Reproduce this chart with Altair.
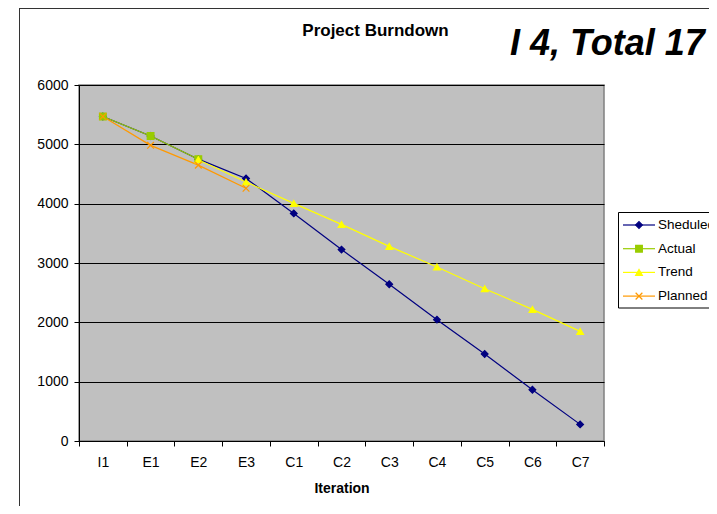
import altair as alt
import pandas as pd

iterations = ["I1", "E1", "E2", "E3", "C1", "C2", "C3", "C4", "C5", "C6", "C7"]
series_names = ["Sheduled", "Actual", "Trend", "Planned"]
sheduled = [5470, 5140, 4750, 4425, 3836, 3226, 2643, 2045, 1466, 865, 280]
actual = [5470, 5140, 4750, None, None, None, None, None, None, None, None]
trend = [None, None, 4741, 4365, 4005, 3651, 3280, 2933, 2567, 2218, 1847]
planned = [5470, 4983, 4650, 4260, None, None, None, None, None, None, None]
colors = ["#000080", "#99CC00", "#FFFF00", "#FF9900"]
shapes = ["diamond", "square", "triangle-up", "M-1,-1L1,1M-1,1L1,-1"]

rows = []
for name, vals in zip(series_names, [sheduled, actual, trend, planned]):
    for it, v in zip(iterations, vals):
        if v is not None:
            rows.append({"iteration": it, "value": v, "series": name})
df = pd.DataFrame(rows)
legend_df = pd.DataFrame({"series": series_names, "i": list(range(len(series_names)))})
one = pd.DataFrame({"k": [0]})

FONT = "Liberation Sans"
color_scale = alt.Scale(domain=series_names, range=colors)
shape_scale = alt.Scale(domain=series_names, range=shapes)

x_enc = alt.X(
    "iteration:N", sort=iterations, bandPosition=0.5,
    scale=alt.Scale(type="band", paddingInner=0, paddingOuter=0),
    axis=alt.Axis(title="Iteration", labelAngle=0, tickBand="extent", grid=False,
                  domainColor="black", tickColor="black", tickSize=5,
                  labelFont=FONT, labelFontSize=14, labelColor="black", labelPadding=9,
                  titleFont=FONT, titleFontSize=14, titleFontWeight="bold", titleColor="black",
                  titlePadding=12),
)
y_enc = alt.Y(
    "value:Q", scale=alt.Scale(domain=[0, 6000]),
    axis=alt.Axis(title=None, values=[0, 1000, 2000, 3000, 4000, 5000, 6000], format="d",
                  grid=True, gridColor="black", gridOpacity=1, gridWidth=1,
                  domainColor="black", tickColor="black", tickSize=5,
                  labelFont=FONT, labelFontSize=14, labelColor="black", labelPadding=6),
)

lines = alt.Chart(df).mark_line(strokeWidth=1.2).encode(
    x=x_enc, y=y_enc,
    color=alt.Color("series:N", scale=color_scale, legend=None),
    detail="series:N",
)
points = alt.Chart(df).mark_point(filled=True, size=45, strokeWidth=1.2, opacity=1).encode(
    x=x_enc, y=y_enc,
    color=alt.Color("series:N", scale=color_scale, legend=None),
    stroke=alt.Stroke("series:N", scale=color_scale, legend=None),
    shape=alt.Shape("series:N", scale=shape_scale, legend=None),
)
data_layer = alt.layer(lines, points)

frame_left = alt.Chart(one).mark_rule(color="#333333", strokeWidth=1).encode(
    x=alt.value(-59.5), y=alt.value(-77), y2=alt.value(425))
frame_top = alt.Chart(one).mark_rule(color="#333333", strokeWidth=1).encode(
    y=alt.value(-76.5), x=alt.value(-60), x2=alt.value(640))

title1 = alt.Chart(one).mark_text(
    text="Project Burndown", font=FONT, fontSize=17, fontWeight="bold",
    align="center", baseline="alphabetic", color="black").encode(
    x=alt.value(296.5), y=alt.value(-49.5))
title2 = alt.Chart(one).mark_text(
    text="I 4, Total 17", font=FONT, fontSize=36, fontWeight="bold", fontStyle="italic",
    align="left", baseline="alphabetic", color="black").encode(
    x=alt.value(431), y=alt.value(-30))

legend_box = alt.Chart(one).mark_rect(fill="white", stroke="black", strokeWidth=1).encode(
    x=alt.value(539.5), x2=alt.value(640), y=alt.value(127.5), y2=alt.value(223))
leg_base = alt.Chart(legend_df).transform_calculate(ly="140 + 23.7 * datum.i")
leg_lines = leg_base.mark_rule(strokeWidth=1.2).encode(
    x=alt.value(544), x2=alt.value(576),
    y=alt.Y("ly:Q", scale=None, axis=None),
    color=alt.Color("series:N", scale=color_scale, legend=None),
)
leg_points = leg_base.mark_point(filled=True, size=45, strokeWidth=1.2, opacity=1).encode(
    x=alt.value(560),
    y=alt.Y("ly:Q", scale=None, axis=None),
    color=alt.Color("series:N", scale=color_scale, legend=None),
    stroke=alt.Stroke("series:N", scale=color_scale, legend=None),
    shape=alt.Shape("series:N", scale=shape_scale, legend=None),
)
leg_text = leg_base.mark_text(font=FONT, fontSize=13.5, align="left", baseline="middle",
                              color="black").encode(
    x=alt.value(579),
    y=alt.Y("ly:Q", scale=None, axis=None),
    text="series:N",
)
legend_layer = alt.layer(leg_lines, leg_points, leg_text)

chart = alt.layer(
    frame_left, frame_top, data_layer, title1, title2,
    legend_box, legend_layer,
).resolve_scale(y="independent").properties(
    width=525, height=356,
    autosize=alt.AutoSizeParams(type="none"),
    padding={"left": 71, "top": 77, "right": 105, "bottom": 65},
    background="white",
).configure_view(fill="#C0C0C0", stroke="#808080", strokeWidth=1.5)

chart.save("out.html", embed_options={"renderer": "svg", "actions": False})
